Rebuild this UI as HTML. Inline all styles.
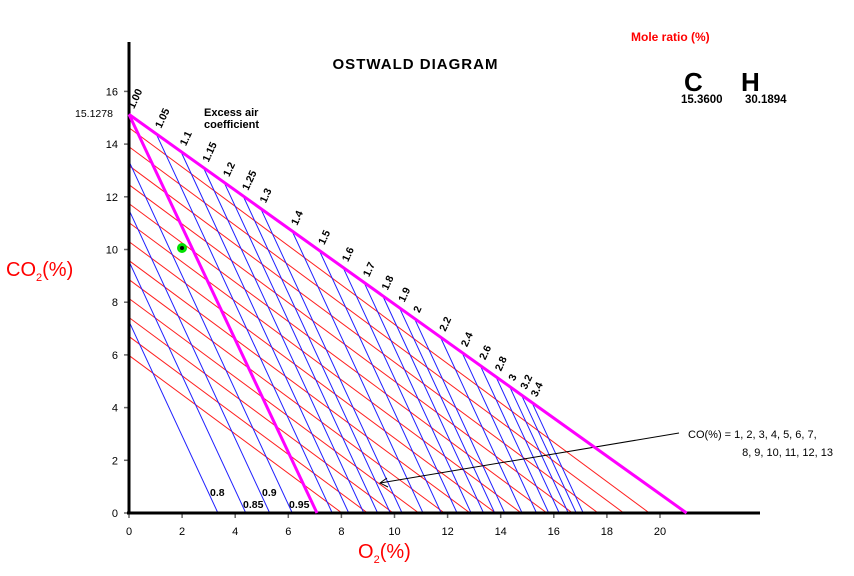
<!DOCTYPE html>
<html><head><meta charset="utf-8"><style>
html,body{margin:0;padding:0;background:#fff;}
svg{display:block;font-family:"Liberation Sans","DejaVu Sans",sans-serif;}
</style></head><body>
<svg id="s" width="854" height="576" viewBox="0 0 854 576" xmlns="http://www.w3.org/2000/svg">
<g id="grid"></g>
<g id="ticks"></g>
<line x1="129" y1="42" x2="129" y2="514" stroke="#000" stroke-width="3"/>
<line x1="127" y1="513" x2="760" y2="513" stroke="#000" stroke-width="3"/>
<text x="415" y="69" font-size="15" font-weight="bold" text-anchor="middle" textLength="165">OSTWALD DIAGRAM</text>
<text x="204" y="116" font-size="11" font-weight="bold">Excess air</text>
<text x="204" y="128" font-size="11" font-weight="bold">coefficient</text>
<text x="631" y="41" font-size="12" font-weight="bold" fill="#ff0000">Mole ratio (%)</text>
<text x="684" y="91" font-size="26" font-weight="bold">C</text>
<text x="741" y="91" font-size="26" font-weight="bold">H</text>
<text x="681" y="103" font-size="11.5" font-weight="bold">15.3600</text>
<text x="745" y="103" font-size="11.5" font-weight="bold">30.1894</text>
<text x="6" y="276" font-size="20" fill="#ff0000">CO<tspan font-size="11" dy="5">2</tspan><tspan dy="-5">(%)</tspan></text>
<text x="358" y="558" font-size="20" fill="#ff0000">O<tspan font-size="11" dy="5">2</tspan><tspan dy="-5">(%)</tspan></text>
<text x="75" y="117" font-size="10.5">15.1278</text>
<line x1="679" y1="433" x2="380" y2="483" stroke="#000" stroke-width="1"/>
<path d="M387,478 L380,483 L388,487" fill="none" stroke="#000" stroke-width="1"/>
<text x="688" y="438" font-size="11">CO(%) = 1, 2, 3, 4, 5, 6, 7,</text>
<text x="833" y="456" font-size="11" text-anchor="end">8, 9, 10, 11, 12, 13</text>
<text x="210" y="496" font-size="10.5" font-weight="bold">0.8</text>
<text x="243" y="508" font-size="10.5" font-weight="bold">0.85</text>
<text x="262" y="496" font-size="10.5" font-weight="bold">0.9</text>
<text x="289" y="508" font-size="10.5" font-weight="bold">0.95</text>
<g id="top"></g>
<circle cx="182" cy="248" r="5" fill="#00e000"/>
<circle cx="182" cy="248" r="2" fill="#000"/>
</svg>
<script>
var NS="http://www.w3.org/2000/svg";
function X(v){return 129+v*26.55;}
function Y(v){return 513-v*26.35;}
function el(p,t,a,txt){var e=document.createElementNS(NS,t);for(var k in a)e.setAttribute(k,a[k]);if(txt!=null)e.textContent=txt;document.getElementById(p).appendChild(e);return e;}
function ln(p,x1,y1,x2,y2,c,w){el(p,'line',{x1:x1,y1:y1,x2:x2,y2:y2,stroke:c,'stroke-width':w});}
for(var i=0;i<=20;i+=2){ln('ticks',X(i),513,X(i),518,'#666',1.5);el('ticks','text',{x:X(i),y:535,'font-size':11,'text-anchor':'middle'},String(i));}
for(var j=0;j<=16;j+=2){ln('ticks',124,Y(j),129,Y(j),'#666',1.5);el('ticks','text',{x:118,y:Y(j)+4,'font-size':11,'text-anchor':'end'},String(j));}
for(var k=1;k<=13;k++){var y0=14.62-0.72*(k-1),x0=19.6-0.965*(k-1);ln('grid',X(0),Y(y0),X(x0),Y(0),'#ff2020',1);}
var s=2.17;
[3.35,4.4,5.3,6.15].forEach(function(x0){ln('grid',X(0),Y(x0*s),X(x0),Y(0),'#2020ff',1);});
var C=15.1278,lams=[1,1.05,1.1,1.15,1.2,1.25,1.3,1.4,1.5,1.6,1.7,1.8,1.9,2,2.2,2.4,2.6,2.8,3,3.2,3.4];
var labs=['1.00','1.05','1.1','1.15','1.2','1.25','1.3','1.4','1.5','1.6','1.7','1.8','1.9','2','2.2','2.4','2.6','2.8','3','3.2','3.4'];
lams.forEach(function(l,i){var o=21.5*(l-1)/l;var c=C*(1-o/21);var x0=o+c/(l==1?2.13:s);
 if(l>1)ln('grid',X(o),Y(c),X(x0),Y(0),'#2020ff',1);
 var px=X(o)+5,py=Y(c)-5;el('top','text',{x:px,y:py,'font-size':10.5,'font-weight':'bold',transform:'rotate(-65 '+px+' '+py+')'},labs[i]);});
ln('top',X(0),Y(C),X(7.08),Y(0),'#ff00ff',3);
ln('top',X(0),Y(C),X(21),Y(0),'#ff00ff',3);
</script>
</body></html>
